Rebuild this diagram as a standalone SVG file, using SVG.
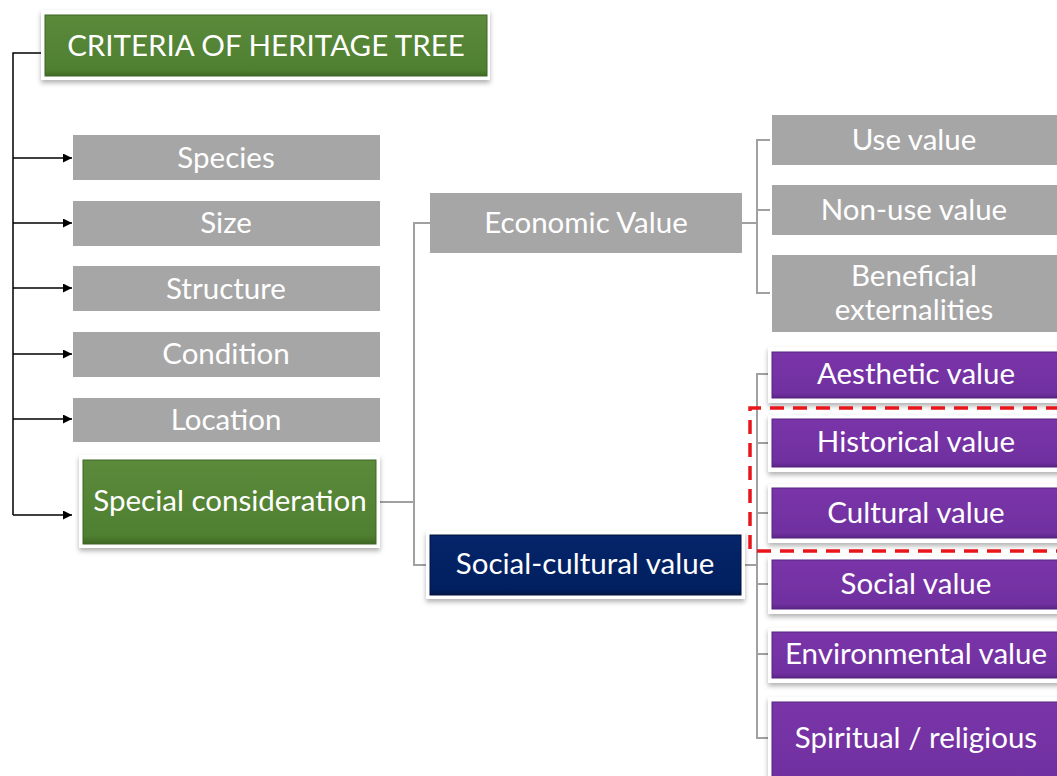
<svg xmlns="http://www.w3.org/2000/svg" width="1057" height="776" viewBox="0 0 1057 776">
<defs>
<style>
text{font-family:Lato,"Liberation Sans",sans-serif;fill:#fff;text-anchor:middle;dominant-baseline:central;font-size:29.5px}
.gray{fill:#a6a6a6}
.frame{fill:#fff;filter:url(#sh)}
.green{fill:url(#gg);stroke:#3e6527;stroke-width:1}
.navy{fill:url(#gn);stroke:#00133d;stroke-width:1}
.purple{fill:url(#gp);stroke:#552380;stroke-width:1}
.blk{fill:none;stroke:#000;stroke-width:1.5}
.gl{fill:none;stroke:#a0a0a0;stroke-width:2}
.dash{fill:none;stroke:#e8161b;stroke-width:3.5;stroke-dasharray:14 9}
</style>
<linearGradient id="gg" x1="0" y1="0" x2="0" y2="1"><stop offset="0" stop-color="#5a8a3a"/><stop offset="0.9" stop-color="#4f7f30"/><stop offset="1" stop-color="#3f6a25"/></linearGradient>
<linearGradient id="gn" x1="0" y1="0" x2="0" y2="1"><stop offset="0" stop-color="#06256a"/><stop offset="0.9" stop-color="#002060"/><stop offset="1" stop-color="#00174a"/></linearGradient>
<linearGradient id="gp" x1="0" y1="0" x2="0" y2="1"><stop offset="0" stop-color="#7a35a8"/><stop offset="0.9" stop-color="#7030a0"/><stop offset="1" stop-color="#5a2585"/></linearGradient>
<filter id="sh" x="-10%" y="-20%" width="120%" height="150%"><feDropShadow dx="0" dy="3" stdDeviation="2.5" flood-color="#000" flood-opacity="0.3"/></filter>
<marker id="arr" viewBox="0 0 10 10" refX="10" refY="5" markerWidth="10" markerHeight="9" markerUnits="userSpaceOnUse" orient="auto"><path d="M0,0 L10,5 L0,10 z" fill="#000"/></marker>
</defs>

<g id="connectors">
<path class="blk" d="M41,53 H13 V515"/>
<path class="blk" marker-end="url(#arr)" d="M13,158 H72"/>
<path class="blk" marker-end="url(#arr)" d="M13,223 H72"/>
<path class="blk" marker-end="url(#arr)" d="M13,288 H72"/>
<path class="blk" marker-end="url(#arr)" d="M13,354 H72"/>
<path class="blk" marker-end="url(#arr)" d="M13,419 H72"/>
<path class="blk" marker-end="url(#arr)" d="M13,515 H72"/>
<path class="gl" d="M380,502 H414 M430,223 H414 V565 H430"/>
<path class="gl" d="M742,223 H757 M770,140 H757 V293 H770 M757,210 H770"/>
<path class="gl" d="M742,565 H757 M770,374 H757 V738 H770 M757,443 H770 M757,513 H770 M757,584 H770 M757,654 H770"/>
</g>

<g id="title">
<rect class="frame" x="41" y="10" width="449" height="70"/>
<rect class="green" x="45" y="15" width="442" height="61"/>
<text x="266" y="44" font-size="33.5">CRITERIA OF HERITAGE TREE</text>
</g>

<g id="species"><rect class="gray" x="73" y="135" width="307" height="45"/><text x="226" y="156">Species</text></g>
<g id="size"><rect class="gray" x="73" y="201" width="307" height="45"/><text x="226" y="221">Size</text></g>
<g id="structure"><rect class="gray" x="73" y="266" width="307" height="45"/><text x="226" y="287">Structure</text></g>
<g id="condition"><rect class="gray" x="73" y="332" width="307" height="45"/><text x="226" y="352">Condition</text></g>
<g id="location"><rect class="gray" x="73" y="398" width="307" height="44"/><text x="226" y="418">Location</text></g>

<g id="special">
<rect class="frame" x="79" y="455" width="301" height="93"/>
<rect class="green" x="83" y="460" width="293" height="84"/>
<text x="230" y="499">Special consideration</text>
</g>

<g id="economic"><rect class="gray" x="430" y="193" width="312" height="60"/><text x="586" y="221">Economic Value</text></g>

<g id="social-cultural">
<rect class="frame" x="426" y="531" width="319" height="68"/>
<rect class="navy" x="430" y="535" width="311" height="60"/>
<text x="585" y="562">Social-cultural value</text>
</g>

<g id="use"><rect class="gray" x="772" y="115" width="290" height="50"/><text x="914" y="138">Use value</text></g>
<g id="nonuse"><rect class="gray" x="772" y="185" width="290" height="50"/><text x="914" y="208">Non-use value</text></g>
<g id="beneficial"><rect class="gray" x="772" y="255" width="290" height="77"/><text x="914" y="274">Beneficial</text><text x="914" y="308">externalities</text></g>

<g id="aesthetic"><rect class="frame" x="768" y="347" width="300" height="56"/><rect class="purple" x="772" y="352" width="300" height="46"/><text x="916" y="372">Aesthetic value</text></g>
<g id="historical"><rect class="frame" x="768" y="415" width="300" height="57"/><rect class="purple" x="772" y="419" width="300" height="48"/><text x="916" y="440">Historical value</text></g>
<g id="cultural"><rect class="frame" x="768" y="484" width="300" height="59"/><rect class="purple" x="772" y="488" width="300" height="50"/><text x="916" y="511">Cultural value</text></g>
<g id="social"><rect class="frame" x="768" y="556" width="300" height="58"/><rect class="purple" x="772" y="560" width="300" height="49"/><text x="916" y="582">Social value</text></g>
<g id="environmental"><rect class="frame" x="768" y="628" width="300" height="55"/><rect class="purple" x="772" y="632" width="300" height="46"/><text x="916" y="652">Environmental value</text></g>
<g id="spiritual"><rect class="frame" x="768" y="697" width="300" height="90"/><rect class="purple" x="772" y="702" width="300" height="85"/><text x="916" y="736">Spiritual / religious</text></g>

<g id="highlight"><path class="dash" d="M1060,408 H750 V551 H1060"/></g>
</svg>
